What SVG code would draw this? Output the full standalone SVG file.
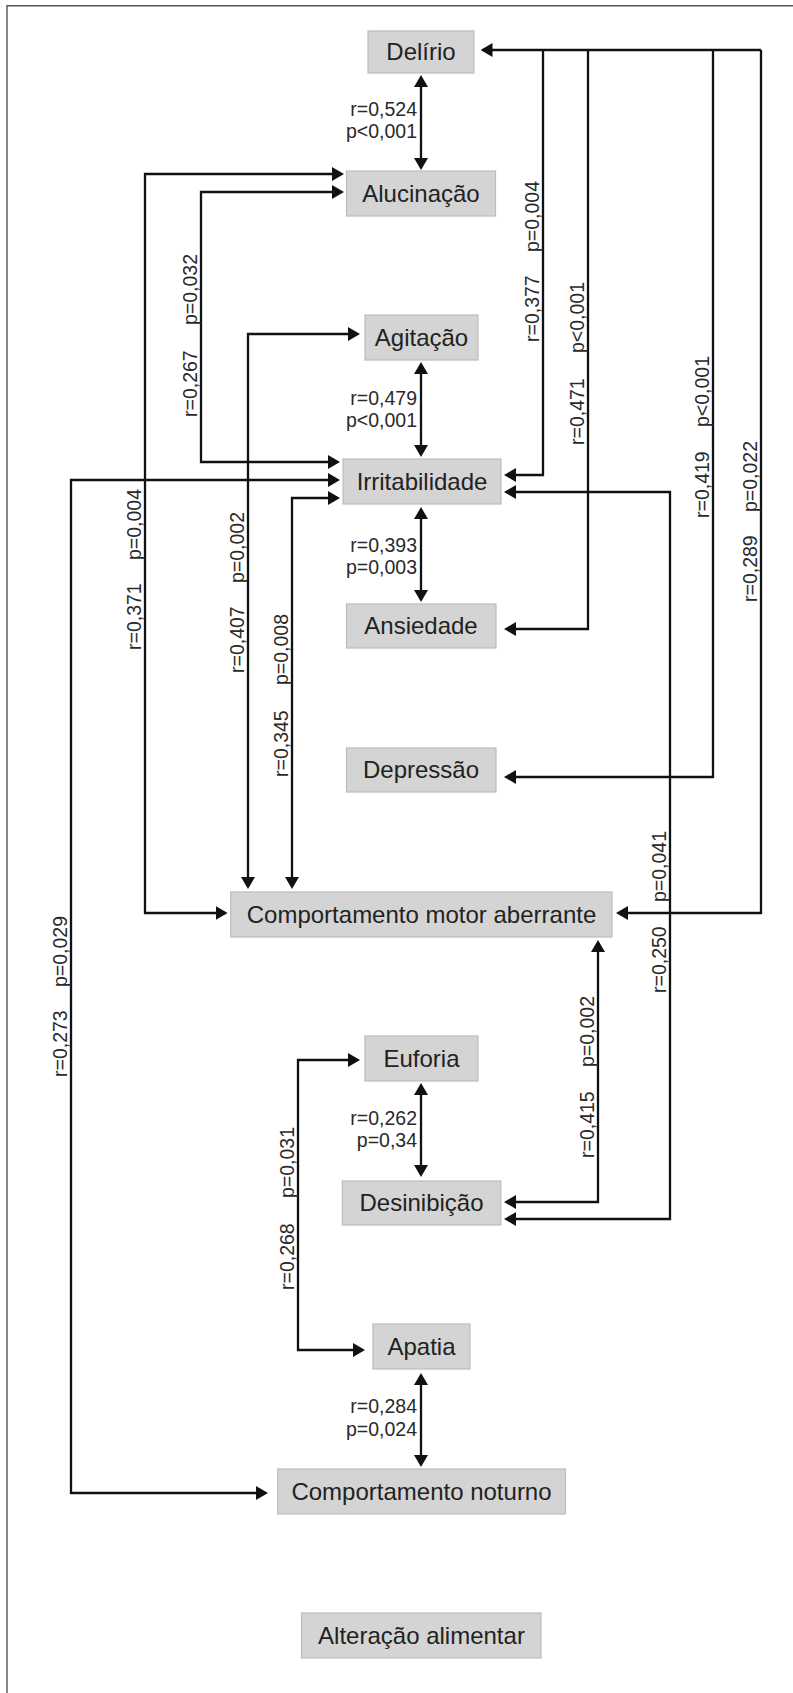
<svg xmlns="http://www.w3.org/2000/svg" width="793" height="1693" viewBox="0 0 793 1693">
<style>
.bg{fill:#ffffff}
.frame{fill:none;stroke:#555;stroke-width:1.4}
.box{fill:#d4d4d4;stroke:#bcbcbc;stroke-width:1.2}
.nt{font-family:"Liberation Sans",Arial,sans-serif;font-size:24px;fill:#222;text-anchor:middle}
.lb{font-family:"Liberation Sans",Arial,sans-serif;font-size:19.5px;fill:#2a2a2a}
.lc{text-anchor:end}
.c{fill:none;stroke:#111;stroke-width:2.3}
.a2{marker-start:url(#ah);marker-end:url(#ah)}
.a1{marker-end:url(#ah)}
</style>
<defs>
<marker id="ah" viewBox="0 0 12 14" refX="9" refY="7" markerWidth="12" markerHeight="14" markerUnits="userSpaceOnUse" orient="auto-start-reverse">
<path d="M0,0 L12,7 L0,14 z" fill="#111"/>
</marker>
</defs>
<rect class="bg" x="0" y="0" width="793" height="1693"/>
<path class="frame" d="M7,1693 V5.7 H793"/>

<g id="connectors">
<path class="c a2" d="M421,78 V167"/>
<path class="c a2" d="M341,192 H201 V462 H337"/>
<path class="c a2" d="M341,174 H145 V913 H224.6"/>
<path class="c a2" d="M357,334 H248 V886"/>
<path class="c a2" d="M421,365 V454"/>
<path class="c a2" d="M337,498 H292 V886"/>
<path class="c a2" d="M337,480 H71 V1493 H265"/>
<path class="c a2" d="M421,510 V599"/>
<path class="c a1" d="M761,50 H483.5"/>
<path class="c a1" d="M761,50 V913 H619"/>
<path class="c a1" d="M543,50 V475 H507"/>
<path class="c a1" d="M588,50 V629 H507"/>
<path class="c a1" d="M713,50 V777 H507"/>
<path class="c a2" d="M507,492 H670 V1219 H507"/>
<path class="c a2" d="M598,943 V1202 H507"/>
<path class="c a2" d="M421,1086 V1174"/>
<path class="c a2" d="M357,1060 H298 V1350 H362"/>
<path class="c a2" d="M421,1376 V1464"/>
</g>

<g id="labels">
<text class="lb lc" x="417" y="116">r=0,524</text>
<text class="lb lc" x="417" y="138">p&lt;0,001</text>
<text class="lb lc" x="417" y="405">r=0,479</text>
<text class="lb lc" x="417" y="427">p&lt;0,001</text>
<text class="lb lc" x="417" y="552">r=0,393</text>
<text class="lb lc" x="417" y="574">p=0,003</text>
<text class="lb lc" x="417" y="1125">r=0,262</text>
<text class="lb lc" x="417" y="1147">p=0,34</text>
<text class="lb lc" x="417" y="1413">r=0,284</text>
<text class="lb lc" x="417" y="1436">p=0,024</text>

<text class="lb" transform="translate(196.5,325) rotate(-90)">p=0,032</text>
<text class="lb" transform="translate(196.5,417) rotate(-90)">r=0,267</text>
<text class="lb" transform="translate(140.5,560) rotate(-90)">p=0,004</text>
<text class="lb" transform="translate(140.5,650) rotate(-90)">r=0,371</text>
<text class="lb" transform="translate(243.5,583) rotate(-90)">p=0,002</text>
<text class="lb" transform="translate(243.5,673) rotate(-90)">r=0,407</text>
<text class="lb" transform="translate(287.5,685) rotate(-90)">p=0,008</text>
<text class="lb" transform="translate(287.5,777) rotate(-90)">r=0,345</text>
<text class="lb" transform="translate(66.5,987) rotate(-90)">p=0,029</text>
<text class="lb" transform="translate(66.5,1077) rotate(-90)">r=0,273</text>
<text class="lb" transform="translate(538.5,252) rotate(-90)">p=0,004</text>
<text class="lb" transform="translate(538.5,342) rotate(-90)">r=0,377</text>
<text class="lb" transform="translate(583.5,353) rotate(-90)">p&lt;0,001</text>
<text class="lb" transform="translate(583.5,445) rotate(-90)">r=0,471</text>
<text class="lb" transform="translate(708.5,427) rotate(-90)">p&lt;0,001</text>
<text class="lb" transform="translate(708.5,518) rotate(-90)">r=0,419</text>
<text class="lb" transform="translate(756.5,512) rotate(-90)">p=0,022</text>
<text class="lb" transform="translate(756.5,602) rotate(-90)">r=0,289</text>
<text class="lb" transform="translate(665.5,902) rotate(-90)">p=0,041</text>
<text class="lb" transform="translate(665.5,993) rotate(-90)">r=0,250</text>
<text class="lb" transform="translate(593.5,1067) rotate(-90)">p=0,002</text>
<text class="lb" transform="translate(593.5,1158) rotate(-90)">r=0,415</text>
<text class="lb" transform="translate(293.5,1198) rotate(-90)">p=0,031</text>
<text class="lb" transform="translate(293.5,1290) rotate(-90)">r=0,268</text>
</g>

<g id="delirio"><rect class="box" x="368" y="31" width="106" height="42"/><text class="nt" x="421" y="60">Delírio</text></g>
<g id="alucinacao"><rect class="box" x="346.5" y="171" width="149" height="45"/><text class="nt" x="421" y="201.5">Alucinação</text></g>
<g id="agitacao"><rect class="box" x="365" y="315" width="113" height="45"/><text class="nt" x="421.5" y="345.5">Agitação</text></g>
<g id="irritabilidade"><rect class="box" x="343" y="459" width="158" height="45"/><text class="nt" x="422" y="489.5">Irritabilidade</text></g>
<g id="ansiedade"><rect class="box" x="346.5" y="604" width="149.5" height="44"/><text class="nt" x="421" y="634">Ansiedade</text></g>
<g id="depressao"><rect class="box" x="346.5" y="748" width="149.5" height="44"/><text class="nt" x="421" y="778">Depressão</text></g>
<g id="comportamento-motor"><rect class="box" x="230.7" y="892" width="381.3" height="45"/><text class="nt" x="421.5" y="922.5">Comportamento motor aberrante</text></g>
<g id="euforia"><rect class="box" x="365" y="1036" width="113" height="45"/><text class="nt" x="421.5" y="1066.5">Euforia</text></g>
<g id="desinibicao"><rect class="box" x="342.4" y="1181" width="158.4" height="44"/><text class="nt" x="421.5" y="1211">Desinibição</text></g>
<g id="apatia"><rect class="box" x="373" y="1324" width="97" height="45"/><text class="nt" x="421.5" y="1354.5">Apatia</text></g>
<g id="comportamento-noturno"><rect class="box" x="277.7" y="1469" width="287.8" height="45"/><text class="nt" x="421.5" y="1499.5">Comportamento noturno</text></g>
<g id="alteracao-alimentar"><rect class="box" x="301.5" y="1613" width="239.5" height="45"/><text class="nt" x="421.5" y="1643.5">Alteração alimentar</text></g>
</svg>
